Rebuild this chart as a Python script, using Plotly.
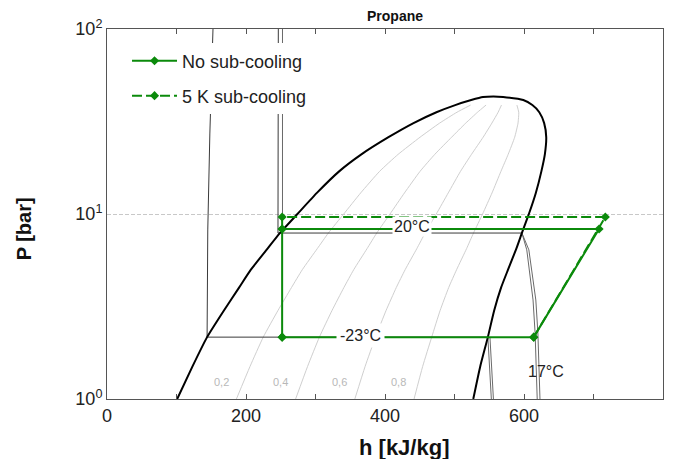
import numpy as np
import plotly.graph_objects as go

# ---------------- data ----------------
# saturation dome (pressure in bar, enthalpy in kJ/kg)
P_sat = [1.0, 1.5, 2.16, 3.0, 4.0, 5.0, 6.5, 7.9, 10.0, 13.0, 17.0, 21.0, 26.0, 31.0, 35.5, 38.8, 41.3]
h_liq = [101, 123, 144, 168, 190, 207, 231, 249, 274, 302, 334, 366, 405, 441, 474, 501, 524]
h_vap = [527, 537, 548, 557, 567, 577, 589, 597, 607, 617, 625, 630, 632, 629, 622, 612, 599]
h_top = [541, 556, 570]
P_top = [42.9, 43.2, 42.9]

# vapour-quality lines
qualities = [0.2, 0.4, 0.6, 0.8]
quality_texts = ["0,2", "0,4", "0,6", "0,8"]
quality_text_h = [165, 250, 335, 420]
quality_text_P = 1.24
n_quality_pts = 16  # quality lines stop at 38.8 bar

# isotherms (thin lines)
iso_m23_h = [152.5, 148, 145, 144, 548]
iso_m23_P = [100, 27.4, 8.2, 2.16, 2.16]
iso_m23_vap_a_h = [548, 553]
iso_m23_vap_b_h = [551, 556]
iso_m23_vap_P = [2.16, 1.0]
iso_17_h = [246.5, 246, 597]
iso_17_P = [100, 7.89, 7.89]
iso_17_vap_a_h = [597, 604, 613, 616, 619]
iso_17_vap_b_h = [597, 607, 617, 620, 623]
iso_17_vap_P = [7.89, 6.4, 3.43, 2.27, 1.0]
iso_20_liq_h = [252.5, 252.5]
iso_20_liq_P = [100, 9.63]

# refrigeration cycles
cycle_h = [252, 614, 708, 252, 252]
cycle_P = [2.16, 2.16, 8.3, 8.3, 2.16]
sub_h = [614, 717, 252, 252]
sub_P = [2.16, 9.63, 9.63, 8.3]

x_tick_vals = [0, 200, 400, 600, 800]
x_tick_text = ["0", "200", "400", "600", "800"]
y_tick_vals = [1, 10, 100]
y_tick_text = ["10<sup>0</sup>", "10<sup>1</sup>", "10<sup>2</sup>"]

# ---------------- figure ----------------
FONT = "Arial, 'Liberation Sans', sans-serif"
GREEN = "#0b8a0b"
fig = go.Figure()

hl = np.array(h_liq[:n_quality_pts], dtype=float)
hv = np.array(h_vap[:n_quality_pts], dtype=float)
for q in qualities:
    fig.add_trace(go.Scatter(x=hl + q * (hv - hl), y=P_sat[:n_quality_pts], mode="lines",
                             line=dict(color="#cfcfcf", width=1, shape="spline", smoothing=0.5),
                             showlegend=False, hoverinfo="skip"))

thin = dict(color="#3a3a3a", width=1)
thin_g = dict(color="#6a6a6a", width=1)
for hx, py, ln in [
    (iso_m23_h, iso_m23_P, thin),
    (iso_m23_vap_a_h, iso_m23_vap_P, thin_g),
    (iso_m23_vap_b_h, iso_m23_vap_P, thin_g),
    (iso_17_h, iso_17_P, thin),
    (iso_17_vap_a_h, iso_17_vap_P, thin_g),
    (iso_17_vap_b_h, iso_17_vap_P, thin_g),
    (iso_20_liq_h, iso_20_liq_P, thin_g),
]:
    fig.add_trace(go.Scatter(x=hx, y=py, mode="lines", line=ln, showlegend=False, hoverinfo="skip"))

dome_h = h_liq + h_top + h_vap[::-1]
dome_P = P_sat + P_top + P_sat[::-1]
fig.add_trace(go.Scatter(x=dome_h, y=dome_P, mode="lines",
                         line=dict(color="black", width=2, shape="spline", smoothing=0.5),
                         showlegend=False, hoverinfo="skip"))

fig.add_trace(go.Scatter(x=sub_h, y=sub_P, mode="lines+markers", name="5 K sub-cooling",
                         line=dict(color=GREEN, width=2, dash="10px,4px"),
                         marker=dict(symbol="diamond", size=7, color=GREEN),
                         legend="legend2"))
fig.add_trace(go.Scatter(x=cycle_h, y=cycle_P, mode="lines+markers", name="No sub-cooling",
                         line=dict(color=GREEN, width=2),
                         marker=dict(symbol="diamond", size=7, color=GREEN),
                         legend="legend"))

ann = []
for t, hx in zip(quality_texts, quality_text_h):
    ann.append(dict(x=hx, y=np.log10(quality_text_P), xref="x", yref="y", text=t, showarrow=False,
                    font=dict(size=11, color="#b8b8b8", family=FONT)))
ann.append(dict(x=439, y=0.935, xref="x", yref="y", text="20°C", showarrow=False,
                font=dict(size=16, color="#222", family=FONT), bgcolor="white", borderpad=1))
ann.append(dict(x=365, y=np.log10(2.16), yshift=2, xref="x", yref="y", text="-23°C", showarrow=False,
                font=dict(size=16, color="#222", family=FONT), bgcolor="white", borderpad=3))
ann.append(dict(x=632, y=0.151, xref="x", yref="y", text="17°C", showarrow=False,
                font=dict(size=16, color="#222", family=FONT)))
ann.append(dict(x=0.518, y=1.035, xref="paper", yref="paper", text="<b>Propane</b>", showarrow=False,
                xanchor="center", yanchor="middle", font=dict(size=14, color="#111", family=FONT)))
ann.append(dict(x=0.534, y=-0.13, xref="paper", yref="paper", text="<b>h [kJ/kg]</b>", showarrow=False,
                xanchor="center", yanchor="middle", font=dict(size=22, color="#111", family=FONT)))
ann.append(dict(x=-0.149, y=0.459, xref="paper", yref="paper", text="<b>P [bar]</b>", showarrow=False,
                xanchor="center", yanchor="middle", textangle=-90,
                font=dict(size=20, color="#111", family=FONT)))

fig.update_layout(
    width=678, height=459,
    margin=dict(l=107, r=15, t=29, b=60),
    paper_bgcolor="white", plot_bgcolor="white",
    font=dict(family=FONT, color="#222"),
    annotations=ann,
    legend=dict(x=0.036, xanchor="left", y=0.9135, yanchor="middle", bgcolor="white",
                itemwidth=45,
                font=dict(size=18, color="#222", family=FONT), borderwidth=0),
    legend2=dict(x=0.036, xanchor="left", y=0.819, yanchor="middle", bgcolor="white",
                 itemwidth=45,
                 font=dict(size=18, color="#222", family=FONT), borderwidth=0),
    xaxis=dict(range=[0, 800], tickvals=x_tick_vals, ticktext=x_tick_text, ticks="inside", ticklen=5,
               tickcolor="#555", showline=True, linecolor="#555", linewidth=1, mirror="ticks",
               minor=dict(dtick=100, tick0=0, ticks="inside", ticklen=5, tickcolor="#555", showgrid=False),
               showgrid=False, zeroline=False, tickfont=dict(size=18, color="#222")),
    yaxis=dict(type="log", range=[0, 2], tickvals=y_tick_vals, ticktext=y_tick_text, ticks="",
               showline=True, linecolor="#555", linewidth=1, mirror=True,
               showgrid=True, gridcolor="#c8c8c8", griddash="4px,2px", gridwidth=1,
               zeroline=False, tickfont=dict(size=18, color="#222")),
)

fig.write_html("out.html", config={"displayModeBar": False},
               post_script="document.body.style.margin='0';document.body.style.overflow='hidden';")
